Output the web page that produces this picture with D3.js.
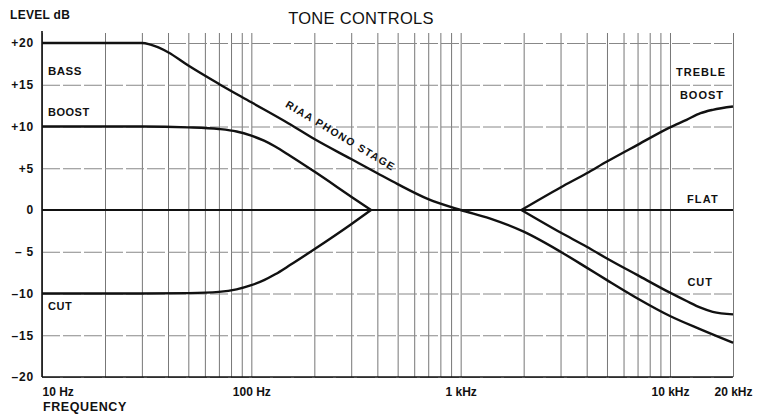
<!DOCTYPE html>
<html>
<head>
<meta charset="utf-8">
<script src="https://cdn.jsdelivr.net/npm/d3@7"></script>
<style>
  body { margin: 0; background: #fff; }
  svg { display: block; font-family: "Liberation Sans", Arial, sans-serif; }
</style>
</head>
<body>
<div id="chart"></div>
<script>
// frequency grid (Hz) and level ticks (dB)
const gridFreqs = [10, 20, 30, 40, 50, 60, 70, 80, 90,
                   100, 200, 300, 400, 500, 600, 700, 800, 900,
                   1000, 2000, 3000, 4000, 5000, 6000, 7000, 8000, 9000,
                   10000, 20000];
const freqTicks = [10, 100, 1000, 10000, 20000];
const freqLabels = ["10 Hz", "100 Hz", "1 kHz", "10 kHz", "20 kHz"];
const levelTicks = [20, 15, 10, 5, 0, -5, -10, -15, -20];
const levelLabels = ["+20", "+15", "+10", "+5", "0", "\u2013 5", "\u201310", "\u201315", "\u201320"];

// curves
const riaaFreq = [10, 20, 30, 33, 40, 50, 70, 100, 150, 200, 300, 400, 500, 700, 1000, 1375, 2000, 3000, 4000, 5000, 7000, 10000, 14000, 20000];
const riaaDb = [20, 20, 20, 19.8, 18.9, 17.3, 15.1, 12.9, 10.4, 8.5, 6.1, 4.4, 3.1, 1.3, 0, -1.0, -2.6, -5.0, -6.9, -8.4, -10.6, -12.7, -14.3, -15.9];

const bassFreq = [10, 30, 50, 70, 85, 100, 115, 130, 153, 200, 300, 373];
const bassBoostDb = [10, 10, 9.9, 9.7, 9.4, 8.9, 8.3, 7.6, 6.5, 4.6, 1.6, 0];
const bassCutDb = [-10, -10, -9.95, -9.8, -9.5, -9.0, -8.4, -7.7, -6.6, -4.7, -1.7, 0];

const trebleFreq = [1950, 3000, 4000, 5000, 7000, 10000, 12000, 14000, 16000, 20000];
const trebleBoostDb = [0, 2.7, 4.4, 5.8, 7.8, 9.9, 10.8, 11.6, 12.0, 12.4];
const trebleCutDb = [0, -2.7, -4.4, -5.8, -7.8, -9.9, -10.9, -11.7, -12.2, -12.5];

const flatFreq = [10, 20000];
const flatDb = [0, 0];

const width = 768, height = 414;
const plotLeft = 42, plotRight = 733, plotTop = 43, plotBottom = 377;

const svg = d3.select("#chart")
    .append("svg")
    .attr("width", width)
    .attr("height", height);

const x = d3.scaleLog()
    .domain([10, 20000])
    .range([plotLeft, plotRight]);

const y = d3.scaleLinear()
    .domain([-20, 20])
    .range([plotBottom, plotTop]);

// vertical grid, running a little above the +20 line
svg.append("g")
    .attr("class", "vgrid")
    .attr("transform", `translate(0, ${plotBottom})`)
    .call(d3.axisBottom(x).tickValues(gridFreqs).tickSize(-(plotBottom - plotTop + 10)).tickFormat(""))
    .call(g => g.select(".domain").remove())
    .call(g => g.selectAll("line").attr("stroke", "#777").attr("stroke-width", 1));

// horizontal grid
svg.append("g")
    .attr("class", "hgrid")
    .attr("transform", `translate(${plotLeft}, 0)`)
    .call(d3.axisRight(y).tickValues(levelTicks).tickSize(plotRight - plotLeft).tickFormat(""))
    .call(g => g.select(".domain").remove())
    .call(g => g.selectAll("line").attr("stroke", "#888").attr("stroke-width", 1)
        .attr("stroke-dasharray", "18,3"));

// frame
svg.append("line")
    .attr("x1", plotLeft).attr("x2", plotLeft)
    .attr("y1", plotTop - 12).attr("y2", plotBottom)
    .attr("stroke", "#111").attr("stroke-width", 1.6);
svg.append("line")
    .attr("x1", plotLeft).attr("x2", plotRight)
    .attr("y1", plotBottom).attr("y2", plotBottom)
    .attr("stroke", "#111").attr("stroke-width", 1.6);

// y tick labels
svg.append("g")
    .attr("transform", `translate(${plotLeft}, 0)`)
    .call(d3.axisLeft(y).tickValues(levelTicks).tickSize(0).tickPadding(8)
        .tickFormat((d, i) => levelLabels[i]))
    .call(g => g.select(".domain").remove())
    .call(g => g.selectAll("text")
        .attr("font-family", "'Liberation Sans', Arial, sans-serif")
        .attr("font-size", 12)
        .attr("font-weight", "bold")
        .attr("letter-spacing", 0.8)
        .attr("fill", "#111"));

// x tick labels
svg.append("g")
    .attr("transform", `translate(0, ${plotBottom})`)
    .call(d3.axisBottom(x).tickValues(freqTicks).tickSize(0).tickPadding(10)
        .tickFormat((d, i) => freqLabels[i]))
    .call(g => g.select(".domain").remove())
    .call(g => g.selectAll("text")
        .attr("font-family", "'Liberation Sans', Arial, sans-serif")
        .attr("font-size", 12)
        .attr("font-weight", "bold")
        .attr("fill", "#111"))
    .call(g => g.selectAll(".tick").filter(d => d === 10).select("text")
        .attr("text-anchor", "start"));

// curves
const line = d3.line()
    .x(d => x(d[0]))
    .y(d => y(d[1]))
    .curve(d3.curveMonotoneX);

const curves = [
    { f: flatFreq, v: flatDb, w: 2.2 },
    { f: riaaFreq, v: riaaDb, w: 2.4 },
    { f: bassFreq, v: bassBoostDb, w: 2.4 },
    { f: bassFreq, v: bassCutDb, w: 2.4 },
    { f: trebleFreq, v: trebleBoostDb, w: 2.4 },
    { f: trebleFreq, v: trebleCutDb, w: 2.4 }
];

svg.selectAll("path.curve")
    .data(curves)
    .enter()
    .append("path")
    .attr("class", "curve")
    .attr("d", c => line(c.f.map((f, i) => [f, c.v[i]])))
    .attr("fill", "none")
    .attr("stroke", "#111")
    .attr("stroke-width", c => c.w)
    .attr("stroke-linejoin", "round");

// titles and annotations
const label = (tx, ty, txt, size, anchor, weight, spacing) =>
    svg.append("text")
        .attr("x", tx)
        .attr("y", ty)
        .attr("dy", "0.35em")
        .attr("text-anchor", anchor || "start")
        .attr("font-size", size)
        .attr("font-weight", weight || "bold")
        .attr("letter-spacing", spacing || 0)
        .attr("fill", "#111")
        .text(txt);

label(10, 15, "LEVEL dB", 12, "start", "bold", 0.3);
label(361, 18, "TONE CONTROLS", 16.5, "middle", "normal", 0.3);
label(43, 407, "FREQUENCY", 12.5, "start", "bold", 0.6);

label(x(10) + 6, y(16.6), "BASS", 11.5, "start", "bold", 0.5);
label(x(10) + 6, y(11.7), "BOOST", 11, "start", "bold", 0.5);
label(x(10) + 6, y(-11.5), "CUT", 11, "start", "bold", 0.5);

label(x(20000) - 7, y(16.5), "TREBLE", 11, "end", "bold", 1);
label(x(20000) - 9, y(13.8), "BOOST", 11, "end", "bold", 1);
label(x(20000) - 14, y(1.3), "FLAT", 11, "end", "bold", 1.2);
label(x(20000) - 20, y(-8.6), "CUT", 11, "end", "bold", 1);

svg.append("text")
    .attr("transform", `translate(${x(267)}, ${y(8.9)}) rotate(31)`)
    .attr("dy", "0.35em")
    .attr("text-anchor", "middle")
    .attr("font-size", 10.5)
    .attr("font-weight", "bold")
    .attr("letter-spacing", 1.3)
    .attr("fill", "#111")
    .text("RIAA PHONO STAGE");
</script>
</body>
</html>
